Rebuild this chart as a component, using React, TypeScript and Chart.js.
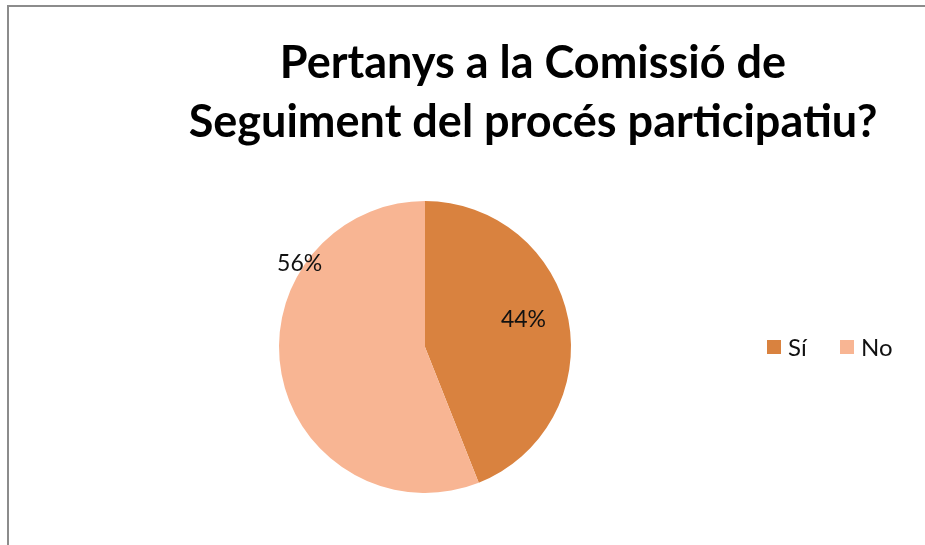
import React, { useEffect, useRef } from "react";
import { Chart, registerables } from "chart.js";

Chart.register(...registerables);

const categories: string[] = ["Sí", "No"];
const values: number[] = [44, 56];
const colors: string[] = ["#D9823F", "#F8B593"];
const valueLabels: string[] = ["44%", "56%"];
const titleLines: string[] = ["Pertanys a la Comissió de", "Seguiment del procés participatiu?"];
// label placement within each slice: fraction of the slice's sweep, fraction of radius
const labelSweep: number[] = [0.47, 0.72];
const labelRadius: number[] = [0.70, 1.03];

const FONT = "Lato, 'Open Sans', 'DejaVu Sans', sans-serif";

const decorPlugin = {
  id: "decor",
  beforeDraw(chart: any) {
    const ctx = chart.ctx;
    ctx.save();
    ctx.fillStyle = "#ffffff";
    ctx.fillRect(0, 0, chart.width, chart.height);
    ctx.strokeStyle = "#8c8c8c";
    ctx.lineWidth = 2;
    ctx.beginPath();
    ctx.moveTo(8, chart.height);
    ctx.lineTo(8, 6);
    ctx.lineTo(chart.width, 6);
    ctx.stroke();
    ctx.restore();
  },
  afterDraw(chart: any) {
    const ctx = chart.ctx;
    ctx.save();
    // title
    ctx.fillStyle = "#000000";
    ctx.font = `bold 45px ${FONT}`;
    ctx.textAlign = "center";
    ctx.textBaseline = "alphabetic";
    ctx.fillText(titleLines[0], 533, 78);
    ctx.fillText(titleLines[1], 533, 137);

    // data labels
    const meta = chart.getDatasetMeta(0);
    ctx.font = `23px ${FONT}`;
    ctx.textBaseline = "middle";
    meta.data.forEach((arc: any, i: number) => {
      const p = arc.getProps(["x", "y", "startAngle", "endAngle", "outerRadius"], true);
      const a = p.startAngle + (p.endAngle - p.startAngle) * labelSweep[i];
      const r = p.outerRadius * labelRadius[i];
      ctx.fillStyle = "#111111";
      ctx.fillText(valueLabels[i], p.x + Math.cos(a) * r, p.y + Math.sin(a) * r);
    });

    // legend
    let x = 767;
    const y = 347;
    ctx.textAlign = "left";
    ctx.font = `24px ${FONT}`;
    categories.forEach((c, i) => {
      ctx.fillStyle = colors[i];
      ctx.fillRect(x, y - 7, 14, 14);
      ctx.fillStyle = "#111111";
      ctx.fillText(c, x + 21, y + 1);
      x += 73;
    });
    ctx.restore();
  },
};

export default function App() {
  const ref = useRef<HTMLCanvasElement | null>(null);
  useEffect(() => {
    if (!ref.current) return;
    const chart = new Chart(ref.current, {
      type: "pie",
      data: {
        labels: categories,
        datasets: [
          {
            data: values,
            backgroundColor: colors,
            borderWidth: 0,
          },
        ],
      },
      options: {
        animation: false,
        responsive: false,
        maintainAspectRatio: false,
        devicePixelRatio: 1,
        layout: { padding: { left: 279, right: 354, top: 201, bottom: 52 } },
        plugins: {
          legend: { display: false },
          title: { display: false },
          tooltip: { enabled: false },
        },
      },
      plugins: [decorPlugin],
    });
    return () => chart.destroy();
  }, []);
  return (
    <div style={{ position: "absolute", left: 0, top: 0, width: 925, height: 545, overflow: "hidden", background: "#fff" }}>
      <canvas ref={ref} width={925} height={545} style={{ display: "block" }} />
    </div>
  );
}
